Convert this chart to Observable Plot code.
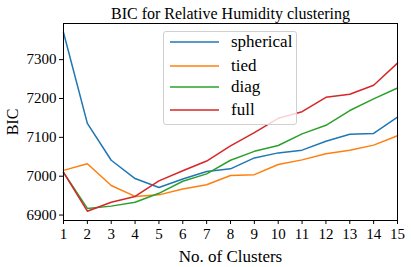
<!DOCTYPE html>
<html>
<head>
<meta charset="utf-8">
<script src="https://cdn.jsdelivr.net/npm/d3@7"></script>
<script src="https://cdn.jsdelivr.net/npm/@observablehq/plot@0.6"></script>
<style>
  html, body { margin: 0; padding: 0; background: #fff; }
  #wrap { position: relative; width: 411px; height: 267px; }
  #legend { position: absolute; left: 163px; top: 31px; width: 134px; height: 94px; box-sizing: border-box;
    border: 1px solid #d0d0d0; border-radius: 3px; background: rgba(255,255,255,0.8); }
  .row { position: absolute; left: 6px; height: 20px; display: flex; align-items: center; }
</style>
</head>
<body>
<div id="wrap"><div id="legend"></div></div>
<script>
const clusters = [1,2,3,4,5,6,7,8,9,10,11,12,13,14,15];
const spherical = [7370,7136,7041,6994,6971,6993,7012,7019,7047,7060,7067,7090,7108,7110,7152];
const tied      = [7015,7032,6976,6948,6952,6967,6978,7002,7004,7030,7042,7058,7067,7080,7104];
const diag      = [7010,6917,6923,6933,6956,6987,7006,7041,7064,7079,7109,7131,7169,7199,7227];
const full      = [7010,6910,6933,6948,6988,7014,7039,7078,7112,7149,7166,7203,7211,7234,7291];
const seriesNames = ["spherical","tied","diag","full"];
const seriesColors = ["#1f77b4","#ff7f0e","#2ca02c","#d62728"];
const seriesValues = [spherical, tied, diag, full];
const yTicks = [6900,7000,7100,7200,7300];
const title = "BIC for Relative Humidity clustering";

const data = seriesNames.flatMap((name, i) =>
  clusters.map((k, j) => ({series: name, k, bic: seriesValues[i][j]})));

const font = "Liberation Serif";
const chart = Plot.plot({
  width: 411, height: 267,
  marginLeft: 63, marginRight: 14, marginTop: 23, marginBottom: 47,
  style: {fontFamily: font, fontSize: "15px", color: "#000", background: "#fff"},
  x: {domain: [1, 15]},
  y: {domain: [6886, 7393]},
  color: {domain: seriesNames, range: seriesColors},
  marks: [
    Plot.lineY(data, {x: "k", y: "bic", stroke: "series", strokeWidth: 1.5}),
    Plot.frame({stroke: "#000", strokeWidth: 1}),
    Plot.axisX({ticks: clusters, tickFormat: d => String(d), tickSize: 4, tickPadding: 4, fontSize: 15, fontFamily: font, label: null}),
    Plot.axisY({ticks: yTicks, tickFormat: d => String(d), tickSize: 4, tickPadding: 3, fontSize: 15, fontFamily: font, label: null}),
    Plot.text([title], {frameAnchor: "top", lineAnchor: "bottom", dy: -5, text: d => d, fontSize: 16, fontFamily: font}),
    Plot.text(["No. of Clusters"], {frameAnchor: "bottom", lineAnchor: "bottom", dy: 41, text: d => d, fontSize: 17, fontFamily: font}),
    Plot.text(["BIC"], {frameAnchor: "left", textAnchor: "middle", lineAnchor: "middle", dx: -51, rotate: -90, text: d => d, fontSize: 16, fontFamily: font})
  ]
});
document.getElementById("wrap").prepend(chart);

const legend = document.getElementById("legend");
const rowTops = [0, 24, 45, 68];
seriesNames.forEach((name, i) => {
  const row = document.createElement("div");
  row.className = "row";
  row.style.top = rowTops[i] + "px";
  row.innerHTML = `<svg width="49" height="4"><line x1="0" x2="49" y1="2" y2="2" stroke="${seriesColors[i]}" stroke-width="1.5"/></svg><span style="font-family:'Liberation Serif';font-size:17px;margin-left:12px;color:#000">${name}</span>`;
  legend.appendChild(row);
});
</script>
</body>
</html>
